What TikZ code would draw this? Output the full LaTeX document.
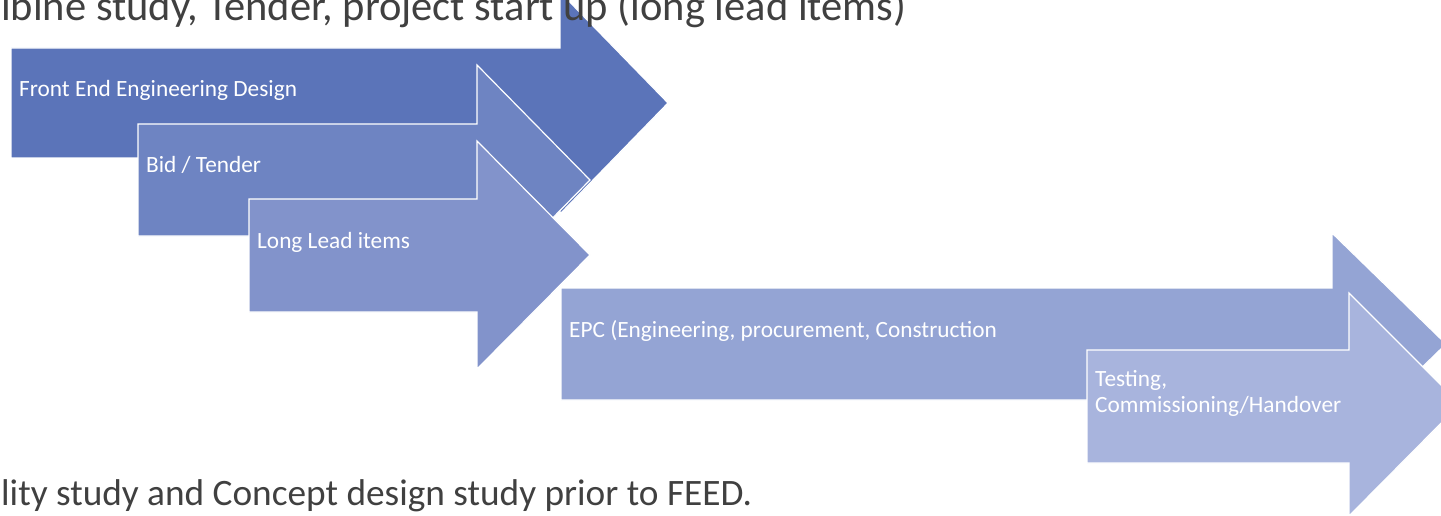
\documentclass[tikz,border=0pt]{standalone}
\usepackage{fontspec}
\setmainfont{Carlito}
\definecolor{FeedColor}{RGB}{91,116,185}
\definecolor{BidColor}{RGB}{110,132,194}
\definecolor{LeadColor}{RGB}{130,147,203}
\definecolor{EpcColor}{RGB}{148,164,212}
\definecolor{TestColor}{RGB}{168,180,221}
\definecolor{TitleColor}{RGB}{64,64,64}
\usepackage{tikz}
\usetikzlibrary{positioning}
\tikzstyle{phase} = [draw=white, line width=1.2pt, line join=miter]
\tikzstyle{phaselabel} = [anchor=base west, inner sep=0pt, text=white, font=\fontsize{23.3}{26}\selectfont, align=left]
\tikzstyle{caption} = [anchor=base west, inner sep=0pt, text=TitleColor]

\begin{document}
\begin{tikzpicture}[x=1pt, y=-1pt]
                \useasboundingbox (0,0) rectangle (1441,516);

                % Phase arrows
                \filldraw[phase, fill=FeedColor] (11,48) -- (560,48) -- (560,-8) -- (668,103) -- (560,214) -- (560,158) -- (11,158) -- cycle;
                \filldraw[phase, fill=BidColor] (138,124) -- (477,124) -- (477,65) -- (590,180) -- (477,295) -- (477,236) -- (138,236) -- cycle;
                \filldraw[phase, fill=LeadColor] (249,199) -- (477,199) -- (477,141) -- (590,255) -- (477,369) -- (477,312) -- (249,312) -- cycle;
                \filldraw[phase, fill=EpcColor] (561,288) -- (1332,288) -- (1332,233) -- (1446,344) -- (1332,455) -- (1332,400) -- (561,400) -- cycle;
                \filldraw[phase, fill=TestColor] (1087,350) -- (1349,350) -- (1349,293) -- (1460,404) -- (1349,516) -- (1349,463) -- (1087,463) -- cycle;

                % Phase labels
                \node[phaselabel] (feed) at (19,97) {Front End Engineering Design};
                \node[phaselabel] (bid) at (146,173) {Bid / Tender};
                \node[phaselabel] (lead) at (257,248) {Long Lead items};
                \node[phaselabel] (epc) at (569,337) {EPC (Engineering, procurement, Construction};
                \node[phaselabel] (testing) at (1095,412) {Testing,\\Commissioning/Handover};

                % Slide text (cut by the picture edges)
                \node[caption, font=\fontsize{42.5}{50}\selectfont] (toptext) at (1,21) {ibine study, Tender, project start up (long lead items)};
                \node[caption, font=\fontsize{37.3}{44}\selectfont] (bottomtext) at (1,505) {lity study and Concept design study prior to FEED.};
            \end{tikzpicture}
\end{document}
